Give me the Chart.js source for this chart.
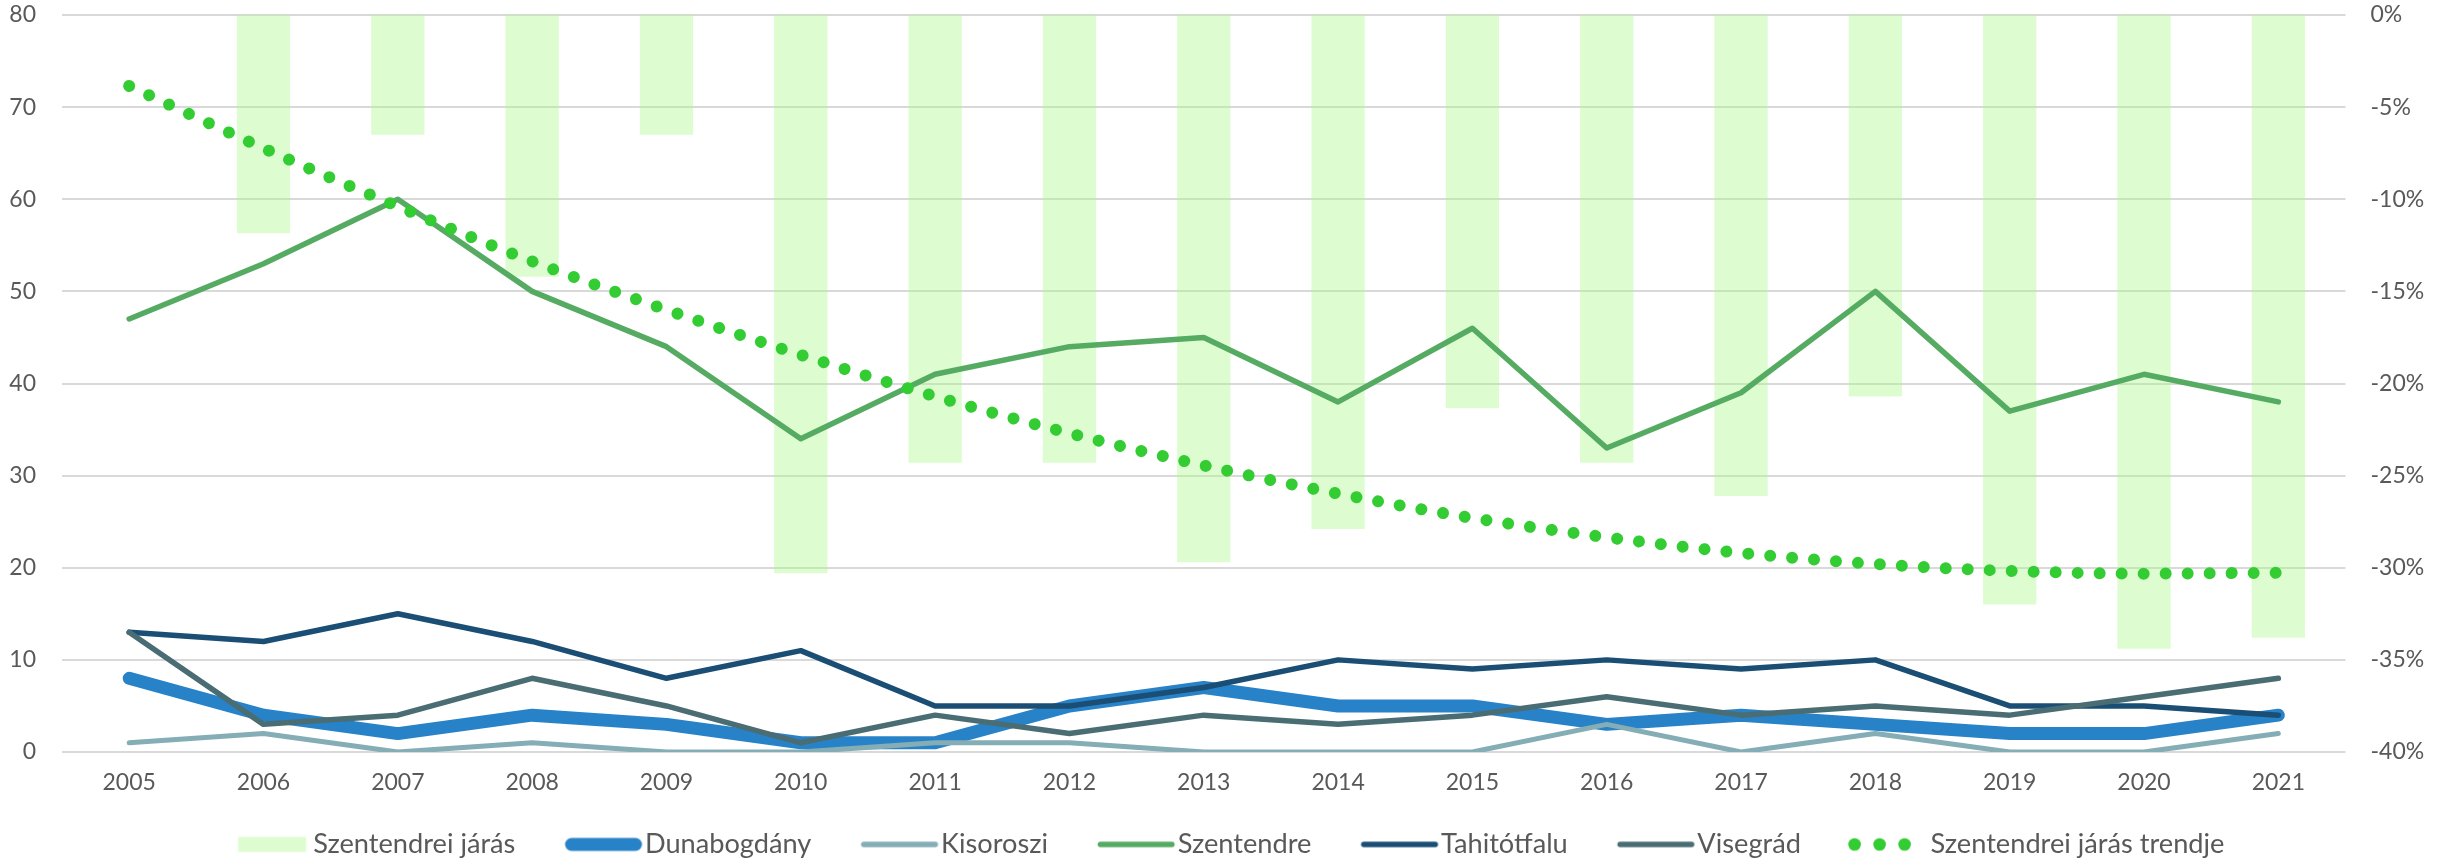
<!DOCTYPE html>
<html><head><meta charset="utf-8">
<script src="https://cdn.jsdelivr.net/npm/chart.js@4.4.0/dist/chart.umd.min.js"></script>
<style>html,body{margin:0;padding:0;background:#fff;overflow:hidden}#wrap{position:relative;width:2446px;height:865px}</style>
</head><body><div id="wrap"><canvas id="c"></canvas></div>
<script>
// ---- data ----
const years = ['2005','2006','2007','2008','2009','2010','2011','2012','2013','2014','2015','2016','2017','2018','2019','2020','2021'];
const jarasChange = [null, -11.85, -6.5, -14.2, -6.5, -30.3, -24.3, -24.3, -29.7, -27.9, -21.35, -24.3, -26.1, -20.7, -32.0, -34.4, -33.8];
const dunabogdany = [8, 4, 2, 4, 3, 1, 1, 5, 7, 5, 5, 3, 4, 3, 2, 2, 4];
const kisoroszi   = [1, 2, 0, 1, 0, 0, 1, 1, 0, 0, 0, 3, 0, 2, 0, 0, 2];
const szentendre  = [47, 53, 60, 50, 44, 34, 41, 44, 45, 38, 46, 33, 39, 50, 37, 41, 38];
const tahitotfalu = [13, 12, 15, 12, 8, 11, 5, 5, 7, 10, 9, 10, 9, 10, 5, 5, 4];
const visegrad    = [13, 3, 4, 8, 5, 1, 4, 2, 4, 3, 4, 6, 4, 5, 4, 6, 8];
const jarasTrend  = [-3.85, -7.23, -10.39, -13.37, -16.0, -18.45, -20.7, -22.7, -24.45, -25.98, -27.3, -28.35, -29.2, -29.8, -30.17, -30.32, -30.27];
const leftAxis  = {min: 0, max: 80, step: 10};
const rightAxis = {min: -40, max: 0, step: 5};

// ---- style ----
const TXT = '#595959';
const TICK_SIZE = 23, LEGEND_SIZE = 27.2, LEGEND_BOX = 110;
Chart.defaults.font.family = 'Lato';

// legend swatch images (image centre sits at item x + BOX/2, text starts at item x + BOX + size/2)
function swatch(kind, color, lw) {
  const W = 138, H = 28;
  const textX = W / 2 + LEGEND_BOX / 2 + LEGEND_SIZE / 2;
  const c = document.createElement('canvas'); c.width = W; c.height = H;
  const g = c.getContext('2d');
  const cy = H / 2;
  if (kind === 'box') { g.fillStyle = color; g.fillRect(textX - 75, cy - 7.5, 68, 15); }
  else if (kind === 'line') {
    g.strokeStyle = color; g.lineWidth = lw; g.lineCap = 'round';
    g.beginPath(); g.moveTo(textX - 80 + lw / 2, cy); g.lineTo(textX - 3 - lw / 2, cy); g.stroke();
  } else {
    g.fillStyle = color;
    for (const cx of [textX - 76, textX - 51, textX - 26]) { g.beginPath(); g.arc(cx, cy, 6.3, 0, Math.PI * 2); g.fill(); }
  }
  return c;
}

const lineBase = {type: 'line', yAxisID: 'y', pointRadius: 0, pointHoverRadius: 0, fill: false, tension: 0, borderCapStyle: 'round', borderJoinStyle: 'round'};
const datasets = [
  {type: 'bar', label: 'Szentendrei járás', data: jarasChange, yAxisID: 'y1', backgroundColor: 'rgba(170,250,140,0.4)', borderWidth: 0, barPercentage: 1, categoryPercentage: 0.397, order: 10, _sw: ['box', 'rgb(221,253,208)']},
  {...lineBase, label: 'Dunabogdány', data: dunabogdany, borderColor: '#2882C8', borderWidth: 13, order: 6, _sw: ['line', '#2882C8', 13]},
  {...lineBase, label: 'Kisoroszi', data: kisoroszi, borderColor: '#84ADB5', borderWidth: 5, order: 5, _sw: ['line', '#84ADB5', 5.5]},
  {...lineBase, label: 'Szentendre', data: szentendre, borderColor: '#56AB63', borderWidth: 5.5, order: 4, _sw: ['line', '#56AB63', 5.5]},
  {...lineBase, label: 'Tahitótfalu', data: tahitotfalu, borderColor: '#1A4E74', borderWidth: 5.5, order: 3, _sw: ['line', '#1A4E74', 5.5]},
  {...lineBase, label: 'Visegrád', data: visegrad, borderColor: '#4A6D74', borderWidth: 5.5, order: 2, _sw: ['line', '#4A6D74', 5.5]},
  {...lineBase, label: 'Szentendrei járás trendje', data: jarasTrend, yAxisID: 'y1', borderColor: '#33CC33', borderWidth: 12, borderDash: [0.001, 22], cubicInterpolationMode: 'monotone', order: 1, _sw: ['dots', '#33CC33']}
];
const swatches = datasets.map(d => swatch(...d._sw));

new Chart(document.getElementById('c'), {
  type: 'bar',
  data: {labels: years, datasets},
  options: {
    responsive: true, maintainAspectRatio: false, animation: false, devicePixelRatio: 1, events: [],
    layout: {padding: {top: 15, left: -32, right: 0, bottom: -3}},
    plugins: {
      tooltip: {enabled: false},
      legend: {
        position: 'bottom',
        labels: {
          usePointStyle: true, pointStyleWidth: LEGEND_BOX, padding: 6,
          font: {size: LEGEND_SIZE}, color: TXT,
          generateLabels: (chart) => chart.data.datasets.map((ds, i) => ({
            text: ds.label, pointStyle: swatches[i], fontColor: TXT, datasetIndex: i,
            hidden: false, lineWidth: 0, strokeStyle: 'rgba(0,0,0,0)', fillStyle: 'rgba(0,0,0,0)'
          }))
        }
      }
    },
    scales: {
      x: {
        grid: {display: false, drawTicks: false}, border: {display: false},
        ticks: {color: TXT, font: {size: TICK_SIZE}, padding: 17, maxRotation: 0, autoSkip: false},
        afterFit: s => { s.height = 72.8; }
      },
      y: {
        position: 'left', min: leftAxis.min, max: leftAxis.max,
        ticks: {stepSize: leftAxis.step, color: TXT, font: {size: TICK_SIZE}, padding: 26},
        grid: {color: '#D9D9D9', lineWidth: 2, drawTicks: false}, border: {display: false},
        afterFit: s => { s.width = 94; s.paddingTop = 0; s.paddingBottom = 0; }
      },
      y1: {
        position: 'right', min: rightAxis.min, max: rightAxis.max,
        ticks: {stepSize: rightAxis.step, color: TXT, font: {size: TICK_SIZE}, padding: 25, callback: v => v + '%'},
        grid: {display: false, drawTicks: false}, border: {display: false},
        afterFit: s => { s.width = 100.5; s.paddingTop = 0; s.paddingBottom = 0; }
      }
    }
  }
});
</script></body></html>
